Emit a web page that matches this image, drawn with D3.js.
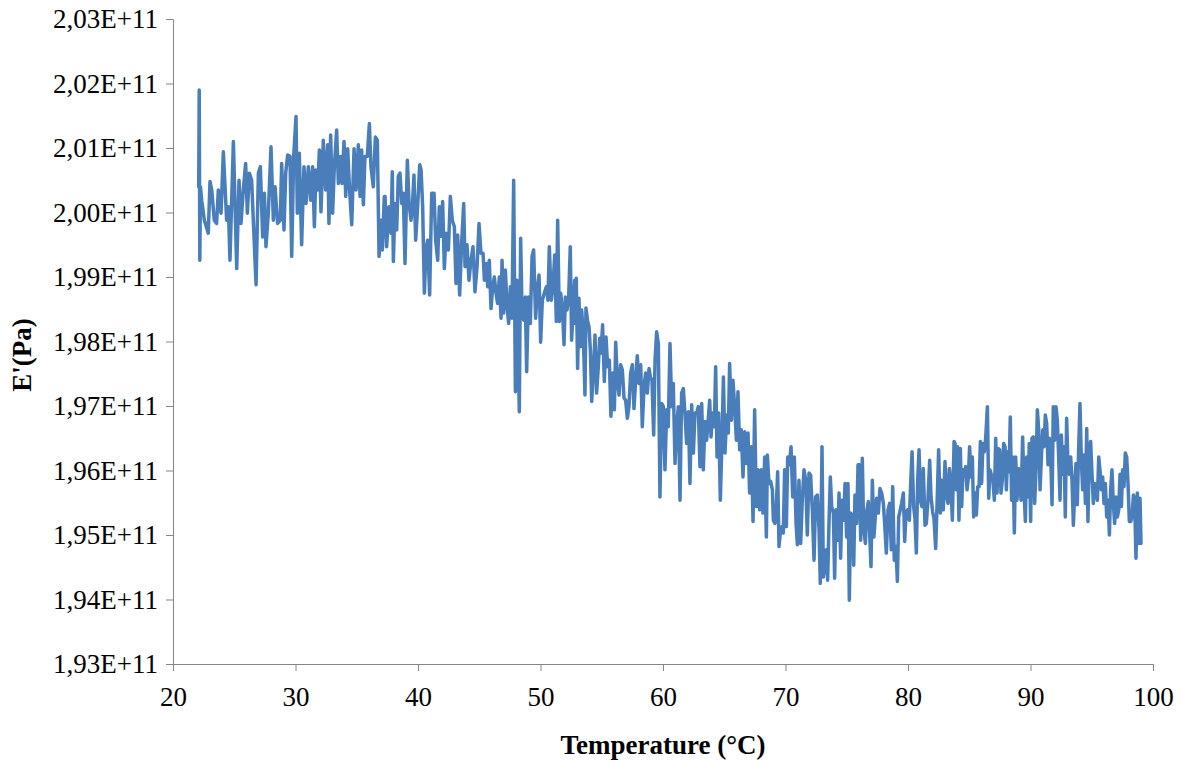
<!DOCTYPE html>
<html>
<head>
<meta charset="utf-8">
<script src="https://cdn.jsdelivr.net/npm/d3@7"></script>
<style>
  html, body { margin: 0; padding: 0; background: #fff; }
  svg { display: block; }
  text { font-family: "Liberation Serif", "Times New Roman", serif; fill: #000; }
</style>
</head>
<body>
<svg id="chart" width="1182" height="763"></svg>
<script>
// ---- data (E' in GPa, temperature in °C) ----
const temp1 = [22.10,22.14,22.19,22.24,22.34,22.56,22.88,23.02,23.16,23.37,23.56,23.70,23.92,24.11,24.38,24.52,24.65,24.93,25.20,25.39,25.55,25.74,25.93,26.07,26.23,26.42,26.59,26.78,26.97,27.13,27.32,27.46,27.59,27.78,28.00,28.19,28.33,28.54,28.76,28.87,29.06,29.20,29.36,29.55,29.69,29.85,30.04,30.15,30.31,30.50,30.69,30.86,31.05,31.24,31.40,31.54,31.67,31.81,31.95,32.08,32.27,32.46,32.63,32.73,32.87,33.03,33.17,33.36,33.50,33.69,33.80,33.96,34.10,34.26,34.40,34.59,34.78,34.94,35.13,35.27,35.40,35.54,35.67,35.86,36.03,36.16,36.35,36.52,36.68,36.82,36.98,37.09,37.25];
const modulus1 = [200.40,201.90,199.26,200.40,200.19,199.88,199.68,200.48,200.35,199.88,199.83,200.35,199.99,200.94,199.88,200.09,199.26,201.10,199.13,200.50,199.83,200.35,200.76,199.99,200.61,200.50,199.73,198.88,200.61,200.71,199.62,200.30,199.47,199.99,201.02,199.88,200.40,199.83,199.88,200.76,199.73,200.61,200.89,200.87,199.32,200.87,201.49,199.99,200.92,199.50,200.71,200.14,200.71,200.19,200.71,199.78,200.66,200.35,200.97,200.01,201.12,200.35,201.05,199.83,201.20,199.99,200.71,201.28,200.45,200.87,200.45,201.10,200.25,200.99,200.40,199.81,200.99,200.35,201.05,200.25,200.97,200.12,200.87,200.87,201.38,200.71,200.40,201.17,201.12,199.32,199.88,199.42,200.25];

const temp2 = [37.31,37.44,37.63,37.80,37.90,37.99,38.12,38.26,38.39,38.53,38.67,38.80,38.94,39.13,39.27,39.43,39.54,39.67,39.81,39.97,40.14,40.25,40.38,40.52,40.65,40.79,40.95,41.12,41.31,41.44,41.61,41.74,41.88,42.01,42.15,42.29,42.48,42.64,42.80,42.97,43.10,43.24,43.40,43.56,43.73,43.84,44.00,44.16,44.33,44.49,44.65,44.82,44.98,45.14,45.31,45.42,45.58,45.69,45.82,45.96,46.10,46.23,46.37,46.50,46.64,46.78,46.86,46.99,47.13,47.27,47.40,47.54,47.67,47.81,47.95,48.08,48.16,48.27,48.38,48.49,48.63,48.76,48.87,49.01,49.17,49.31,49.44,49.60,49.74,49.88,50.01,50.15,50.31,50.48,50.61,50.72,50.88,51.02,51.16,51.29,51.40,51.54,51.65,51.81,51.92,52.03,52.16,52.30,52.43,52.54,52.68,52.79];
const modulus2 = [200.25,199.47,200.09,199.68,200.63,199.24,200.14,199.73,200.56,200.61,200.14,200.30,199.21,200.81,200.14,199.88,200.09,200.58,199.57,200.09,200.74,200.66,200.09,198.75,199.42,199.57,198.72,200.30,200.30,199.57,199.26,200.09,199.63,200.17,199.13,199.68,199.42,200.25,199.88,199.78,198.90,199.65,198.72,199.52,200.14,199.16,199.50,198.95,199.26,199.47,198.77,199.16,199.83,199.37,199.37,198.95,199.21,198.85,199.26,198.51,198.85,199.00,198.75,198.59,199.00,198.36,199.26,198.44,199.11,198.54,198.28,198.85,198.36,200.50,197.22,198.95,198.02,196.91,199.60,198.49,198.33,198.69,197.53,198.69,198.28,199.32,199.42,198.36,198.80,199.03,197.99,198.64,198.75,198.85,198.64,199.47,198.64,198.85,199.34,198.31,199.88,198.31,198.75,198.44,197.95,198.69,198.49,198.69,199.47,198.02,198.54,198.95];

const temp3 = [52.82,52.92,53.03,53.14,53.25,53.36,53.50,53.63,53.71,53.85,53.96,54.07,54.18,54.31,54.45,54.58,54.72,54.83,54.94,55.07,55.21,55.35,55.48,55.62,55.75,55.89,56.03,56.14,56.27,56.41,56.54,56.68,56.82,56.95,57.09,57.22,57.36,57.50,57.63,57.77,57.90,58.04,58.18,58.31,58.45,58.58,58.72,58.86,58.97,59.10,59.24,59.35,59.48,59.62,59.75,59.89,60.03,60.16,60.30,60.43,60.57,60.71,60.84,60.98,61.11,61.25,61.39,61.52,61.66,61.79,61.93,62.07,62.20,62.34,62.48,62.61,62.75,62.88,63.02,63.16,63.29,63.43,63.56,63.70,63.81,63.92,64.05,64.19,64.30,64.41,64.54,64.68,64.82,64.93,65.06,65.20,65.33,65.44,65.58,65.71,65.85,65.99,66.12,66.26,66.39,66.53,66.67,66.80,66.94,67.07,67.21,67.35,67.48,67.62,67.76,67.89,68.03,68.16,68.30];
const modulus3 = [198.28,198.98,197.58,198.67,197.92,198.49,198.07,197.17,198.52,198.31,198.23,197.87,197.07,197.51,198.10,197.20,197.61,198.05,197.82,198.26,197.38,198.07,197.61,197.71,196.84,197.51,196.94,197.99,197.40,197.17,197.64,197.56,197.12,197.09,196.81,196.99,197.51,197.64,196.96,197.40,197.78,197.35,197.64,196.68,197.30,197.51,197.20,197.58,197.45,197.40,196.55,197.71,198.15,197.97,195.59,197.04,196.99,196.01,196.94,196.68,197.97,196.99,197.35,196.11,196.68,196.99,195.54,197.20,197.27,196.89,196.42,196.91,195.80,197.02,196.27,196.89,196.89,196.99,196.06,197.04,196.01,196.76,196.47,196.81,197.09,196.52,196.89,196.68,197.61,196.21,196.89,195.54,196.52,197.45,196.27,196.86,196.58,197.66,196.78,197.40,196.99,196.47,197.22,196.32,196.63,195.90,196.60,196.11,196.58,195.65,196.37,195.21,196.94,195.44,196.01,195.39,196.01,195.34,196.21];

const temp4 = [68.33,68.44,68.52,68.65,68.79,68.93,69.01,69.14,69.25,69.36,69.47,69.58,69.72,69.82,69.93,70.07,70.18,70.31,70.45,70.59,70.72,70.86,70.97,71.10,71.24,71.37,71.51,71.65,71.78,71.92,72.05,72.19,72.33,72.46,72.60,72.74,72.84,72.98,73.09,73.20,73.33,73.44,73.55,73.66,73.77,73.91,74.01,74.12,74.26,74.37,74.50,74.61,74.75,74.86,74.99,75.10,75.21,75.32,75.46,75.57,75.67,75.81,75.92,76.03,76.14,76.27,76.38,76.52,76.63,76.76,76.87,76.98,77.09,77.22,77.33,77.44,77.58,77.71,77.85,77.99,78.12,78.23,78.37,78.50,78.64,78.75,78.88,79.02,79.13,79.24,79.37,79.48,79.62,79.73,79.84,79.97,80.11,80.22,80.33,80.46,80.57,80.68,80.79,80.90,81.03,81.14,81.25,81.39,81.50,81.63,81.77,81.88,82.01,82.12,82.26,82.39,82.50,82.64,82.75,82.88,83.02,83.16,83.27,83.38,83.51,83.62,83.76];
const modulus4 = [195.85,194.97,196.24,195.80,195.83,195.70,195.23,195.18,195.44,195.98,194.82,195.05,195.13,195.03,196.01,195.13,196.21,196.09,196.37,195.59,196.21,195.18,194.85,195.85,194.87,195.54,196.01,195.85,195.00,195.96,195.93,195.39,194.61,195.59,195.62,195.08,194.25,196.37,194.35,194.51,194.77,194.30,195.18,195.90,195.44,195.34,194.33,195.39,194.92,195.65,194.64,195.54,195.23,195.80,194.97,195.80,193.99,195.34,195.31,194.53,195.62,195.18,196.09,196.09,194.92,196.19,195.13,194.87,195.36,195.52,195.03,194.51,195.85,194.97,195.28,195.57,195.34,195.72,195.65,195.49,195.10,194.72,195.39,195.49,194.77,195.75,194.61,194.82,194.28,195.28,195.39,195.49,195.65,194.90,195.34,195.39,195.23,195.80,196.29,195.44,195.26,194.72,195.85,196.32,195.52,195.44,196.03,195.15,195.18,195.54,196.16,195.59,195.36,195.26,194.79,195.59,196.32,195.34,195.85,195.39,196.14,195.59,195.49,196.03,195.75,195.23,196.45];

const temp5 = [83.84,83.95,84.05,84.16,84.27,84.38,84.49,84.60,84.71,84.82,84.93,85.03,85.14,85.25,85.36,85.47,85.58,85.69,85.80,85.91,86.01,86.12,86.23,86.34,86.48,86.59,86.69,86.80,86.91,87.05,87.16,87.27,87.37,87.48,87.59,87.70,87.81,87.92,88.03,88.14,88.25,88.35,88.46,88.57,88.68,88.79,88.90,89.01,89.12,89.23,89.36,89.47,89.58,89.69,89.80,89.90,90.01,90.12,90.23,90.34,90.45,90.56,90.67,90.78,90.89,91.00,91.10,91.21,91.32,91.43,91.54,91.65,91.76,91.86,91.97,92.08,92.19,92.30,92.41,92.52,92.63,92.74,92.84,92.95,93.06,93.17,93.28,93.39,93.50,93.61,93.71,93.82,93.93,94.04,94.15,94.26,94.37,94.48,94.59,94.69,94.80,94.91,95.02,95.13,95.24,95.35,95.46,95.57,95.67,95.78,95.89,96.00,96.11,96.22,96.33,96.44,96.54,96.65,96.76,96.87,96.98,97.09,97.20,97.31,97.42,97.52,97.63,97.74,97.85,97.96,98.07,98.18,98.29,98.40,98.50,98.61,98.72,98.83,98.94,99.02];
const modulus5 = [196.42,195.70,196.37,195.23,196.34,195.44,196.01,195.94,196.06,195.70,195.90,196.37,195.90,196.21,195.28,195.65,195.31,195.75,195.75,196.45,195.80,196.42,196.29,196.50,196.99,195.57,196.01,195.94,195.90,195.54,196.50,195.65,196.34,196.32,195.65,195.85,196.42,196.37,195.70,196.29,195.98,196.83,195.54,196.21,195.03,196.21,195.54,196.03,195.85,195.54,196.52,195.70,195.21,196.21,195.59,196.42,195.21,196.50,196.52,195.49,196.01,196.94,196.63,195.70,196.21,196.63,196.37,196.86,196.73,196.09,196.50,196.21,195.47,196.99,196.47,196.99,196.78,196.21,195.54,196.55,195.94,196.37,195.28,196.81,196.06,195.94,196.21,195.85,195.15,195.70,196.11,195.47,196.32,197.04,196.16,195.70,196.24,195.49,196.65,195.21,196.32,196.45,195.94,195.49,195.80,195.70,195.54,196.21,196.01,195.70,195.90,195.49,195.80,195.28,195.54,195.00,195.70,196.01,195.49,195.18,195.59,195.28,195.39,195.94,195.44,196.01,195.75,196.27,196.21,195.80,195.21,195.21,195.28,195.62,195.54,194.64,195.65,194.87,195.57,194.87];

const xTicks = [20,30,40,50,60,70,80,90,100];
const yTicks = [1.93e11,1.94e11,1.95e11,1.96e11,1.97e11,1.98e11,1.99e11,2.00e11,2.01e11,2.02e11,2.03e11];

(function () {
  // ---- build series ----
  const temps = [temp1,temp2,temp3,temp4,temp5];
  const mods = [modulus1,modulus2,modulus3,modulus4,modulus5];
  const points = [];
  temps.forEach((ts, i) => {
    const ms = mods[i];
    const n = Math.min(ts.length, ms.length);
    for (let k = 0; k < n; k++) points.push({t: ts[k], e: ms[k] * 1e9});
  });

  // ---- chart ----
  const svg = d3.select("#chart");
  const pLeft = 173, pRight = 1153, pTop = 19, pBottom = 664;
  const x = d3.scaleLinear().domain([20,100]).range([pLeft,pRight]);
  const y = d3.scaleLinear().domain([1.93e11,2.03e11]).range([pBottom,pTop]);
  const axisColor = "#868686";

  const fmt = v => (v/1e11).toFixed(2).replace(".", ",") + "E+11";

  const gy = svg.append("g").attr("transform", `translate(${pLeft},0)`)
    .call(d3.axisLeft(y).tickValues(yTicks).tickFormat(fmt).tickSize(7).tickPadding(8));
  gy.selectAll("text").attr("font-size", 27).attr("font-family", "Liberation Serif");

  const gx = svg.append("g").attr("transform", `translate(0,${pBottom})`)
    .call(d3.axisBottom(x).tickValues(xTicks).tickFormat(d3.format("d")).tickSize(7).tickPadding(16));
  gx.selectAll("text").attr("font-size", 27).attr("font-family", "Liberation Serif");

  [gx, gy].forEach(g => {
    g.select(".domain").attr("stroke", axisColor).attr("stroke-width", 1);
    g.selectAll(".tick line").attr("stroke", axisColor).attr("stroke-width", 1);
  });

  const line = d3.line().x(d => x(d.t)).y(d => y(d.e));
  svg.append("path").datum(points)
    .attr("d", line)
    .attr("fill", "none")
    .attr("stroke", "#4A7EBB")
    .attr("stroke-width", 3.5)
    .attr("stroke-linejoin", "round")
    .attr("stroke-linecap", "round");

  svg.append("text")
    .attr("x", (pLeft+pRight)/2).attr("y", 754)
    .attr("text-anchor", "middle")
    .attr("font-size", 27).attr("font-weight", "bold")
    .text("Temperature (°C)");

  svg.append("text")
    .attr("transform", `translate(31,355) rotate(-90)`)
    .attr("text-anchor", "middle")
    .attr("font-size", 27).attr("font-weight", "bold")
    .text("E'(Pa)");
})();
</script>
</body>
</html>
